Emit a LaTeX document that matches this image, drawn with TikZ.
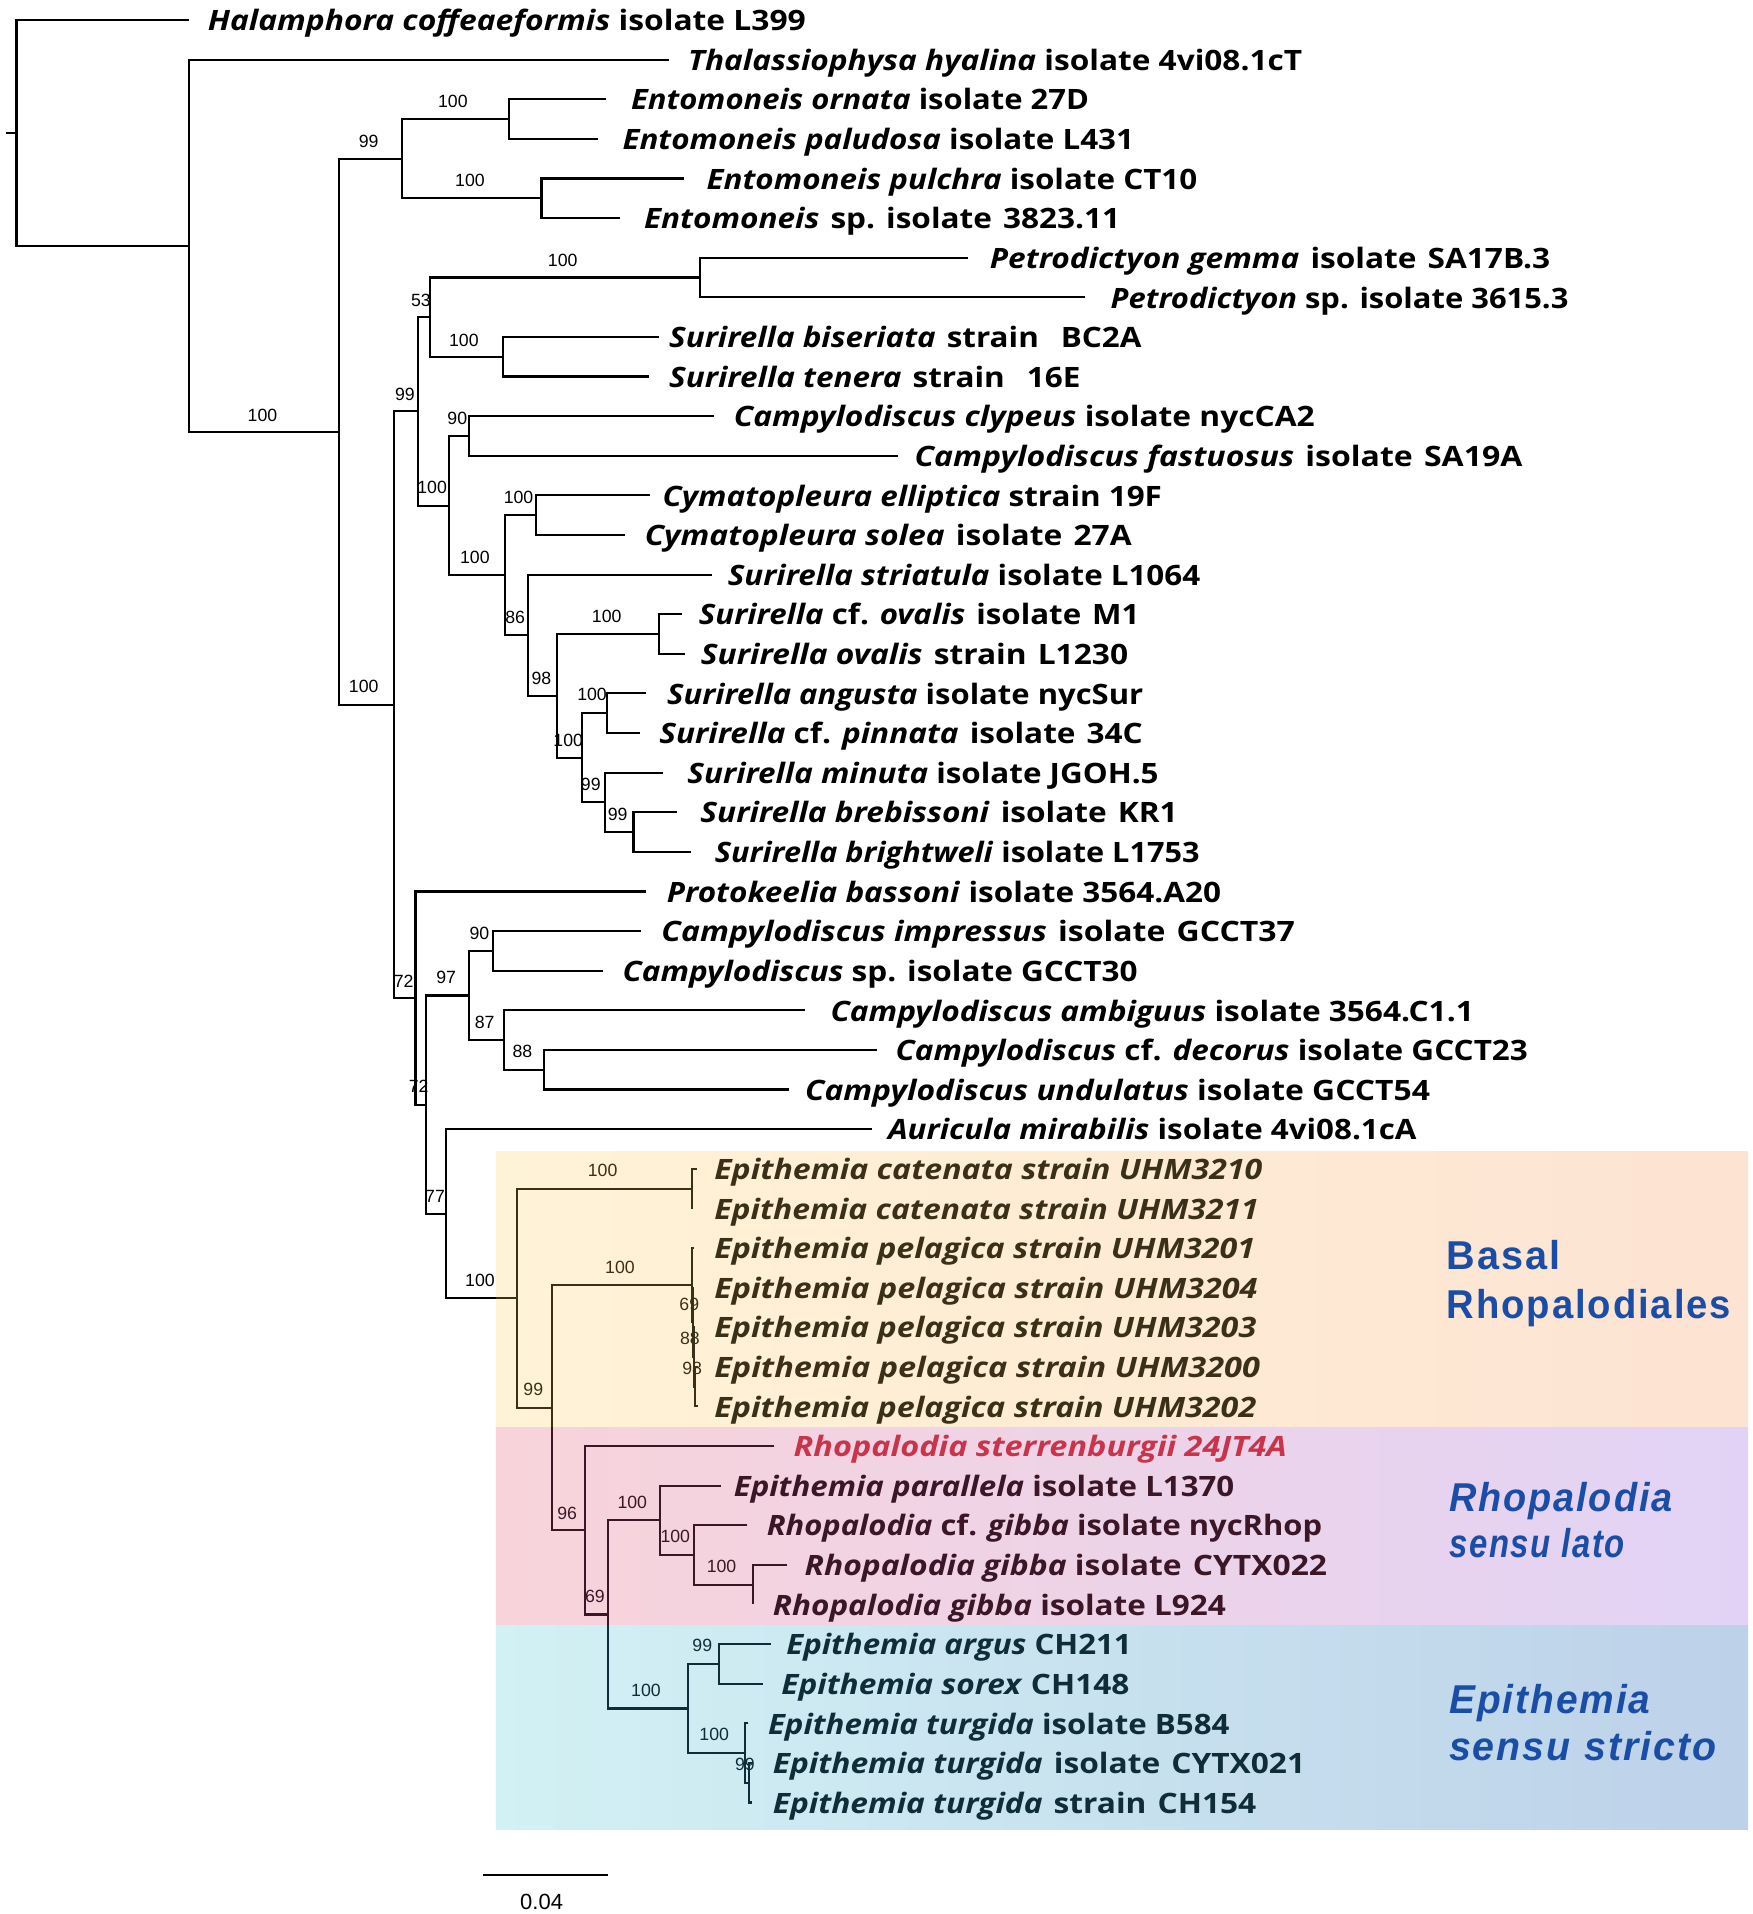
\documentclass[tikz,border=0pt]{standalone}
\usepackage{fontspec}
\usepackage{graphicx}
\setmainfont{Open Sans}
\newfontfamily\bsfont{Liberation Sans}
\newfontfamily\cladefont{Liberation Sans}[LetterSpace=5]
\usetikzlibrary{calc}

\definecolor{inkA}{HTML}{3A3019}
\definecolor{inkB}{HTML}{3A1626}
\definecolor{inkC}{HTML}{0F2C39}
\definecolor{redtx}{HTML}{C8354B}
\definecolor{boxAl}{HTML}{FFF3D7}
\definecolor{boxAr}{HTML}{FDE3D2}
\definecolor{boxBl}{HTML}{F8D3DA}
\definecolor{boxBr}{HTML}{E2D3F6}
\definecolor{boxCl}{HTML}{D2F1F4}
\definecolor{boxCr}{HTML}{BDD1E9}
\definecolor{cladeblue}{HTML}{1A4EA6}

\newsavebox\fitbox
\newcommand\fitto[2]{\sbox\fitbox{#2}\pgfmathsetmacro\fitsx{#1/\the\wd\fitbox}\scalebox{\fitsx}[1]{\usebox\fitbox}}
\newcommand\I[1]{\textit{#1}}
\newcommand\g{\hspace{0.35em}}
\def\treecol{black}

\tikzset{
  tree/.style={line width=1.75pt, draw=\treecol, line join=miter},
  tax/.style={anchor=base west, inner sep=0pt, font=\fontsize{23}{26}\selectfont\bfseries},
  bs/.style={inner sep=0pt, font=\bsfont\fontsize{14.5}{16}\selectfont},
  cladelab/.style={anchor=base west, inner sep=0pt, text=cladeblue, font=\cladefont\bfseries\fontsize{33}{36}\selectfont}
}

% leaf: [text opts]{row}{line end x}{text x}{text width}{content}
\newcommand\leaf[6][]{%
  \coordinate (L#2) at ({#3},{16.4+(#2-1)*32.45});
  \node[tax,#1] (t#2) at ({#4},{16.4+(#2-1)*32.45+8.8}) {\fitto{#5}{#6}};
}
\newcommand\clade[3]{\draw[tree] (#2) -- (#1 |- #2) -- (#1 |- #3) -- (#3);}

\newcommand\alltree{%
\draw[tree] (stub) -- (nroot);
\clade{nroot}{L1}{nA}
\clade{nA}{L2}{nB}
\clade{nB}{nEnt}{nC}
\clade{nEnt}{nEnt1}{nEnt2}
\clade{nEnt1}{L3}{L4}
\clade{nEnt2}{L5}{L6}
\clade{nC}{nD}{nM}
\clade{nD}{nE}{nF}
\clade{nE}{nPetro}{nSurA}
\clade{nPetro}{L7}{L8}
\clade{nSurA}{L9}{L10}
\clade{nF}{nCamp}{nG}
\clade{nCamp}{L11}{L12}
\clade{nG}{nCym}{nH}
\clade{nCym}{L13}{L14}
\clade{nH}{L15}{nI}
\clade{nI}{nov}{nJ}
\clade{nov}{L16}{L17}
\clade{nJ}{nang}{nK}
\clade{nang}{L18}{L19}
\clade{nK}{L20}{nL}
\clade{nL}{L21}{L22}
\clade{nM}{L23}{nN}
\clade{nN}{nO}{nS}
\clade{nO}{nP}{nQ}
\clade{nP}{L24}{L25}
\clade{nQ}{L26}{nR}
\clade{nR}{L27}{L28}
\clade{nS}{L29}{nT}
\clade{nT}{ncat}{nU}
\clade{ncat}{L30}{L31}
\clade{nU}{npel}{nV}
\clade{npel}{L32}{n69}
\clade{n69}{L33}{n88}
\clade{n88}{L34}{n98}
\clade{n98}{L35}{L36}
\clade{nV}{L37}{nW}
\clade{nW}{nX}{nAA}
\clade{nX}{L38}{nY}
\clade{nY}{L39}{nZ}
\clade{nZ}{L40}{L41}
\clade{nAA}{nAB}{nAC}
\clade{nAB}{L42}{L43}
\clade{nAC}{L44}{nAC2}
\clade{nAC2}{L45}{L46}
}

\begin{document}
\begin{tikzpicture}[x=1pt,y=-1pt]
\useasboundingbox (0,0) rectangle (1436,1568);

% clade background boxes
\shade[left color=boxAl, right color=boxAr] (406.3,943.4) rectangle (1432,1169.2);
\shade[left color=boxBl, right color=boxBr] (406.3,1169.2) rectangle (1432,1331.7);
\shade[left color=boxCl, right color=boxCr] (406.3,1331.7) rectangle (1432,1499);

% internal nodes
\coordinate (stub) at (5,108.8);
\coordinate (nroot) at (13.5,108.8);
\coordinate (nA) at (155,201.3);
\coordinate (nB) at (277.7,353.7);
\coordinate (nEnt) at (329,130);
\coordinate (nEnt1) at (417,97.5);
\coordinate (nEnt2) at (443.6,162.4);
\coordinate (nC) at (323,577.3);
\coordinate (nD) at (342.6,337);
\coordinate (nE) at (352,259.8);
\coordinate (nPetro) at (573.3,227.3);
\coordinate (nSurA) at (412,292.2);
\coordinate (nF) at (368,414.2);
\coordinate (nCamp) at (384,357.1);
\coordinate (nG) at (414,471.2);
\coordinate (nCym) at (439,422);
\coordinate (nH) at (432.6,520.4);
\coordinate (nI) at (456.4,570.1);
\coordinate (nov) at (540,519.4);
\coordinate (nJ) at (476.8,620.8);
\coordinate (nang) at (497.5,584.3);
\coordinate (nK) at (495.5,657.3);
\coordinate (nL) at (519,681.6);
\coordinate (nM) at (340.4,817.6);
\coordinate (nN) at (349,904.9);
\coordinate (nO) at (384.3,815.5);
\coordinate (nP) at (404,779);
\coordinate (nQ) at (413,852);
\coordinate (nR) at (446,876.3);
\coordinate (nS) at (365.5,994.3);
\coordinate (nT) at (423.8,1063.5);
\coordinate (ncat) at (566.8,973.7);
\coordinate (nU) at (452.4,1153.2);
\coordinate (npel) at (566.8,1052.8);
\coordinate (n69) at (567.5,1083.2);
\coordinate (n88) at (568.2,1111.6);
\coordinate (n98) at (569.5,1135.9);
\coordinate (nV) at (479.2,1253.6);
\coordinate (nW) at (497.8,1322.6);
\coordinate (nX) at (540.6,1245.5);
\coordinate (nY) at (568.5,1273.9);
\coordinate (nZ) at (617.1,1298.2);
\coordinate (nAA) at (563.3,1399.6);
\coordinate (nAB) at (589.2,1363.1);
\coordinate (nAC) at (610.3,1436.1);
\coordinate (nAC2) at (613.8,1460.4);

% leaves
\leaf{1}{155}{170}{490}{\I{Halamphora coffeaeformis} isolate L399}
\leaf{2}{548.2}{563.6}{503}{\I{Thalassiophysa hyalina} isolate 4vi08.1cT}
\leaf{3}{496.8}{516.9}{375}{\I{Entomoneis ornata} isolate 27D}
\leaf{4}{489.7}{509.8}{419}{\I{Entomoneis paludosa} isolate L431}
\leaf{5}{560}{578.7}{402}{\I{Entomoneis pulchra} isolate CT10}
\leaf{6}{507.7}{527.4}{390}{\I{Entomoneis}\g sp.\g isolate\g 3823.11}
\leaf{7}{792.7}{810.7}{459}{\I{Petrodictyon gemma}\g isolate\g SA17B.3}
\leaf{8}{888.8}{909.7}{375}{\I{Petrodictyon} sp. isolate 3615.3}
\leaf{9}{540}{548}{387}{\I{Surirella biseriata}\g strain\g\g BC2A}
\leaf{10}{532}{548}{337}{\I{Surirella tenera}\g strain\g\g 16E}
\leaf{11}{584.7}{601}{476}{\I{Campylodiscus clypeus} isolate nycCA2}
\leaf{12}{735.6}{749}{498}{\I{Campylodiscus fastuosus}\g isolate\g SA19A}
\leaf{13}{532.5}{542.7}{409}{\I{Cymatopleura elliptica} strain 19F}
\leaf{14}{511.6}{528}{399}{\I{Cymatopleura solea}\g isolate\g 27A}
\leaf{15}{582.9}{596}{387}{\I{Surirella striatula} isolate L1064}
\leaf{16}{558.9}{572.3}{361}{\I{Surirella} cf. \I{ovalis}\g isolate\g M1}
\leaf{17}{561}{574}{350}{\I{Surirella ovalis}\g strain\g L1230}
\leaf{18}{529}{546.4}{390}{\I{Surirella angusta} isolate nycSur}
\leaf{19}{524.4}{540}{396}{\I{Surirella} cf. \I{pinnata}\g isolate\g 34C}
\leaf{20}{543.2}{563}{386}{\I{Surirella minuta} isolate JGOH.5}
\leaf{21}{554.8}{573.6}{391}{\I{Surirella brebissoni}\g isolate\g KR1}
\leaf{22}{565.8}{585.5}{397}{\I{Surirella brightweli} isolate L1753}
\leaf{23}{529.3}{546.1}{454}{\I{Protokeelia bassoni} isolate 3564.A20}
\leaf{24}{524.8}{541.7}{519}{\I{Campylodiscus impressus}\g isolate\g GCCT37}
\leaf{25}{493.8}{509.8}{422}{\I{Campylodiscus} sp. isolate GCCT30}
\leaf{26}{659.4}{680.2}{527}{\I{Campylodiscus ambiguus} isolate 3564.C1.1}
\leaf{27}{718.4}{733.5}{518}{\I{Campylodiscus} cf. \I{decorus} isolate GCCT23}
\leaf{28}{646}{659.3}{512}{\I{Campylodiscus undulatus} isolate GCCT54}
\leaf{29}{714}{727.3}{433}{\I{Auricula mirabilis} isolate 4vi08.1cA}
\leaf[text=inkA]{30}{570.6}{585}{449}{\I{Epithemia catenata strain UHM3210}}
\leaf[text=inkA]{31}{567.2}{585}{446}{\I{Epithemia catenata strain UHM3211}}
\leaf[text=inkA]{32}{568.5}{585}{443}{\I{Epithemia pelagica strain UHM3201}}
\leaf[text=inkA]{33}{568.5}{585}{445}{\I{Epithemia pelagica strain UHM3204}}
\leaf[text=inkA]{34}{569.5}{585}{444}{\I{Epithemia pelagica strain UHM3203}}
\leaf[text=inkA]{35}{571.5}{585}{447}{\I{Epithemia pelagica strain UHM3200}}
\leaf[text=inkA]{36}{571.5}{585}{444}{\I{Epithemia pelagica strain UHM3202}}
\leaf[text=redtx]{37}{634.3}{650}{404}{\I{Rhopalodia sterrenburgii 24JT4A}}
\leaf[text=inkB]{38}{590.3}{601}{410}{\I{Epithemia parallela} isolate L1370}
\leaf[text=inkB]{39}{612.2}{628}{455}{\I{Rhopalodia} cf. \I{gibba} isolate nycRhop}
\leaf[text=inkB]{40}{644.9}{659}{428}{\I{Rhopalodia gibba} isolate\g CYTX022}
\leaf[text=inkB]{41}{617.1}{633}{371}{\I{Rhopalodia gibba} isolate L924}
\leaf[text=inkC]{42}{631.5}{644}{283}{\I{Epithemia argus} CH211}
\leaf[text=inkC]{43}{624.7}{640}{285}{\I{Epithemia sorex} CH148}
\leaf[text=inkC]{44}{613}{629}{378}{\I{Epithemia turgida} isolate B584}
\leaf[text=inkC]{45}{615.7}{633}{436}{\I{Epithemia turgida}\g isolate\g CYTX021}
\leaf[text=inkC]{46}{615.7}{633}{396}{\I{Epithemia turgida}\g strain\g CH154}

% tree branches
\alltree
\begin{scope}
  \clip (406.3,943.4) rectangle (1432,1169.2);
  \def\treecol{inkA}\alltree
\end{scope}
\begin{scope}
  \clip (406.3,1169.2) rectangle (1432,1331.7);
  \def\treecol{inkB}\alltree
\end{scope}
\begin{scope}
  \clip (406.3,1331.7) rectangle (1432,1499);
  \def\treecol{inkC}\alltree
\end{scope}

% bootstrap values
\node[bs] (b1) at (302,116) {99};
\node[bs] (b2) at (371,83) {100};
\node[bs] (b3) at (385,148) {100};
\node[bs] (b4) at (461,213.5) {100};
\node[bs] (b5) at (344.8,245.7) {53};
\node[bs] (b6) at (380,278.5) {100};
\node[bs] (b7) at (331.7,322.7) {99};
\node[bs] (b8) at (374.6,343) {90};
\node[bs] (b9) at (354,399.5) {100};
\node[bs] (b10) at (424.8,407.7) {100};
\node[bs] (b11) at (389,456.8) {100};
\node[bs] (b12) at (422,506) {86};
\node[bs] (b13) at (497,505) {100};
\node[bs] (b14) at (443.6,556) {98};
\node[bs] (b15) at (485,569) {100};
\node[bs] (b16) at (465.5,606.7) {100};
\node[bs] (b17) at (484,643) {99};
\node[bs] (b18) at (506,667) {99};
\node[bs] (b19) at (215,340) {100};
\node[bs] (b20) at (298,562.5) {100};
\node[bs] (b21) at (330.7,803.6) {72};
\node[bs] (b22) at (392.8,765) {90};
\node[bs] (b23) at (365.5,800.8) {97};
\node[bs] (b24) at (397,837.7) {87};
\node[bs] (b25) at (428,861.5) {88};
\node[bs] (b26) at (343,890) {72};
\node[bs] (b27) at (356.4,980) {77};
\node[bs] (b28) at (393.2,1049.3) {100};
\node[bs,text=inkA] (b29) at (493.7,958.9) {100};
\node[bs,text=inkA] (b30) at (436.9,1138) {99};
\node[bs,text=inkA] (b31) at (507.9,1038.4) {100};
\node[bs,text=inkA] (b32) at (564.7,1068.7) {69};
\node[bs,text=inkA] (b33) at (565.2,1096.5) {88};
\node[bs,text=inkA] (b34) at (567.1,1121.1) {98};
\node[bs,text=inkB] (b35) at (464.7,1239.6) {96};
\node[bs,text=inkB] (b36) at (487.4,1307.9) {69};
\node[bs,text=inkB] (b37) at (518,1230.9) {100};
\node[bs,text=inkB] (b38) at (553.2,1258.7) {100};
\node[bs,text=inkB] (b39) at (591.1,1283.3) {100};
\node[bs,text=inkC] (b40) at (529.2,1384.9) {100};
\node[bs,text=inkC] (b41) at (575.3,1348) {99};
\node[bs,text=inkC] (b42) at (585.1,1420.7) {100};
\node[bs,text=inkC] (b43) at (610.3,1445.8) {99};

% clade labels
\node[cladelab] (c1) at (1185,1040) {\fitto{93}{Basal}};
\node[cladelab] (c2) at (1185,1080) {\fitto{233}{Rhopalodiales}};
\node[cladelab] (c3) at (1187,1238) {\fitto{183}{\itshape Rhopalodia}};
\node[cladelab] (c4) at (1187,1276) {\fitto{144}{\itshape sensu lato}};
\node[cladelab] (c5) at (1187,1404) {\fitto{165}{\itshape Epithemia}};
\node[cladelab] (c6) at (1187,1442) {\fitto{219}{\itshape sensu\g stricto}};

% scale bar
\coordinate (sb1) at (395.4,1535.9);
\coordinate (sb2) at (497.8,1535.9);
\draw[line width=1.6pt] (sb1) -- (sb2);
\node[inner sep=0pt, font=\bsfont\fontsize{18}{20}\selectfont] (sbl) at (443.7,1557.7) {0.04};
\end{tikzpicture}
\end{document}
